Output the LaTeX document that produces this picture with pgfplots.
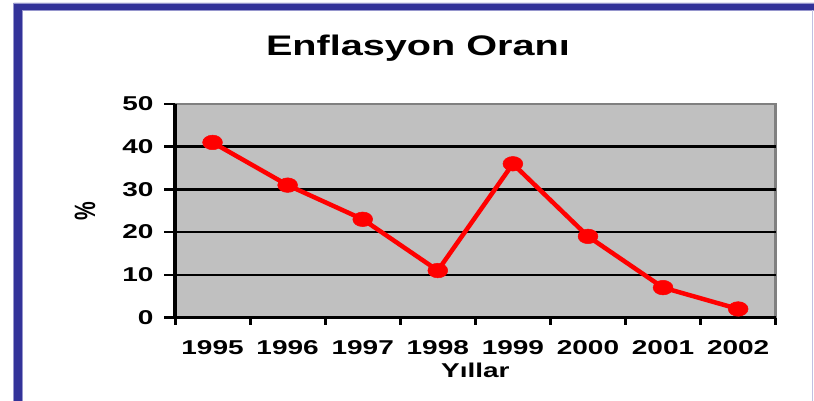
\documentclass[border=0pt]{standalone}
\usepackage{fontspec}
\setmainfont{Liberation Sans}[FakeStretch=1.4]
\newfontfamily\plainfont{Liberation Sans}
\usepackage{graphicx}
\usepackage{pgfplots}
\pgfplotsset{compat=1.18}
\definecolor{frameblue}{RGB}{51,51,153}
\definecolor{framelight}{RGB}{150,150,205}
\definecolor{plotbg}{RGB}{192,192,192}
\definecolor{bordergray}{RGB}{128,128,128}

\begin{document}
\begin{tikzpicture}
\useasboundingbox (0pt,0pt) rectangle (814pt,400pt);
\fill[white] (0pt,0pt) rectangle (814pt,400pt);
% slide frame
\filldraw[fill=frameblue, draw=framelight, line width=0.8pt]
  (13.5pt,-5pt) -- (13.5pt,397pt) -- (820pt,397pt) -- (820pt,390pt)
  -- (22.5pt,390pt) -- (22.5pt,-5pt) -- cycle;
\draw[framelight!60!white, line width=1pt] (812.5pt,-5pt) -- (812.5pt,390pt);

\begin{axis}[
    at={(175pt,82.5pt)}, anchor=south west,
    scale only axis,
    width=600.7pt, height=213.5pt,
    xmin=0.5, xmax=8.5, ymin=0, ymax=50,
    axis x line*=bottom, axis y line*=left,
    axis line style={-, black, line width=3.5pt},
    axis background/.style={fill=plotbg, draw=bordergray, line width=2.5pt},
    xtick={1,...,8},
    xticklabels={1995,1996,1997,1998,1999,2000,2001,2002},
    minor xtick={0.5,1.5,...,8.5},
    ytick={0,10,...,50},
    extra y ticks={10,20,30,40},
    extra y tick labels={},
    extra y tick style={grid=major},
    grid style={black, line width=2.5pt},
    tick align=outside,
    major tick length=11pt, minor tick length=7pt,
    major x tick style={draw=none},
    minor x tick style={black, line width=3pt},
    major y tick style={black, line width=2.5pt},
    /pgf/number format/assume math mode=true,
    ticklabel style={font=\bfseries\fontsize{20}{21}\selectfont},
    xticklabel style={yshift=-8pt},
    yticklabel style={xshift=-7pt},
    title={Enflasyon Oranı},
    title style={at={(axis description cs:0.4045,1.2014)}, anchor=base,
                 font=\bfseries\fontsize{28.3}{30}\selectfont},
    xlabel={Yıllar},
    xlabel style={at={(axis description cs:0.5,-0.282)}, anchor=base,
                  font=\bfseries\fontsize{20}{22}\selectfont},
    ylabel={\plainfont\bfseries\scalebox{1}[1.4]{\%}},
    ylabel style={at={(axis description cs:-0.150,0.5)}, anchor=center,
                  font=\fontsize{21}{22}\selectfont},
    clip=false,
]
\addplot[red, line width=4.5pt, line join=round,
    mark=*, mark size=7.3pt,
    mark options={xscale=1.36, fill=red, draw=red, line width=0.5pt}]
  coordinates {(1,41) (2,31) (3,23) (4,11) (5,36) (6,19) (7,7) (8,2)};
\end{axis}
\end{tikzpicture}
\end{document}
